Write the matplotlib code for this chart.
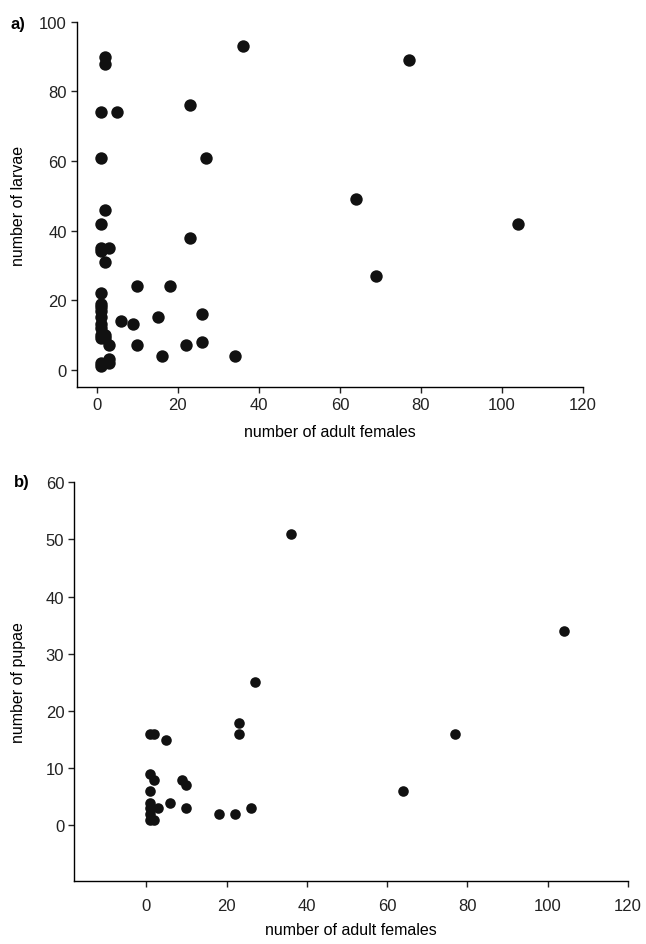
import matplotlib
matplotlib.use('Agg')
import matplotlib.pyplot as plt

plt.rcParams['font.family'] = ['Liberation Sans', 'DejaVu Sans']

# panel a: adult females vs larvae
females_a = [2, 2, 1, 5, 23, 1, 27, 36, 77, 64, 69, 34, 104,
             2, 1, 23, 1, 1, 3, 2, 1, 10, 18,
             1, 1, 1, 1, 1, 1, 1, 1, 2, 2, 3,
             6, 9, 15, 26, 10, 16, 22, 26,
             1, 1, 3, 3]
larvae = [90, 88, 74, 74, 76, 61, 61, 93, 89, 49, 27, 4, 42,
          46, 42, 38, 35, 34, 35, 31, 22, 24, 24,
          19, 18, 17, 15, 13, 12, 10, 9, 10, 9, 7,
          14, 13, 15, 16, 7, 4, 7, 8,
          2, 1, 3, 2]

# panel b: adult females vs pupae
females_b = [36, 104, 77, 64, 27, 23, 23, 1, 2, 5,
             1, 2, 9, 10, 1, 6, 1, 3, 10, 18, 22, 26,
             1, 1, 1, 2]
pupae = [51, 34, 16, 6, 25, 18, 16, 16, 16, 15,
         9, 8, 8, 7, 6, 4, 4, 3, 3, 2, 2, 3,
         3, 2, 1, 1]

fig = plt.figure(figsize=(6.46, 9.45), dpi=100)
dot = '#111111'

ax1 = fig.add_axes([0.1187, 0.5894, 0.7837, 0.3863])
ax1.scatter(females_a, larvae, s=80, color=dot, linewidths=0, zorder=3)
ax1.set_xlim(-5, 120)
ax1.set_ylim(-5, 100)
ax1.set_xticks(range(0, 121, 20))
ax1.set_yticks(range(0, 101, 20))
ax1.set_xlabel('number of adult females', fontsize=11.5, labelpad=9)
ax1.set_ylabel('number of larvae', fontsize=11.5)
ax1.yaxis.set_label_coords(-0.100, 0.5)
fig.text(0.016, 0.974, 'a)', fontsize=12, fontweight='bold', va='center')

ax2 = fig.add_axes([0.1146, 0.0667, 0.8576, 0.4219])
ax2.scatter(females_b, pupae, s=58, color=dot, linewidths=0, zorder=3)
ax2.set_xlim(-18, 120)
ax2.set_ylim(-9.7, 60)
ax2.set_xticks(range(0, 121, 20))
ax2.set_yticks(range(0, 61, 10))
ax2.set_xlabel('number of adult females', fontsize=11.5, labelpad=7)
ax2.set_ylabel('number of pupae', fontsize=11.5)
ax2.yaxis.set_label_coords(-0.087, 0.5)
fig.text(0.021, 0.489, 'b)', fontsize=12, fontweight='bold', va='center')

for ax in (ax1, ax2):
    for side in ('top', 'right'):
        ax.spines[side].set_visible(False)
    ax.spines['left'].set_linewidth(1.0)
    ax.spines['bottom'].set_linewidth(1.0)
    ax.tick_params(direction='out', length=4, width=1.0, labelsize=12,
                   colors='#222222', pad=3)
ax2.tick_params(axis='x', pad=8)

fig.savefig('out.png', dpi=100)
